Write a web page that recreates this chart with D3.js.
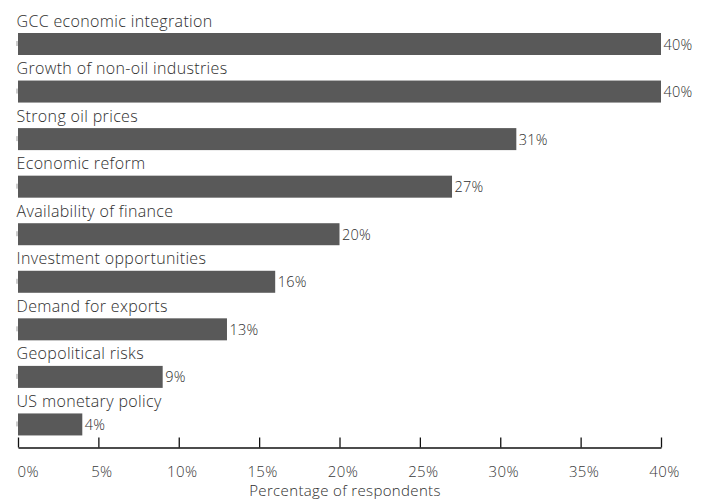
<!DOCTYPE html>
<html>
<head>
<meta charset="utf-8">
<script src="https://cdn.jsdelivr.net/npm/d3@7"></script>
<style>
  body { margin: 0; background: #fff; }
  text { font-family: "Open Sans", Roboto, sans-serif; font-weight: 300; }
  .cat-label { font-size: 16px; letter-spacing: 0.35px; fill: #2e2e2e; }
  .value-label { font-size: 14.5px; letter-spacing: 0.2px; fill: #2e2e2e; }
  .axis text { font-size: 15px; letter-spacing: 0.4px; fill: #3a3a3a; }
  .axis-title { font-size: 15px; letter-spacing: 0.35px; fill: #2e2e2e; }
</style>
</head>
<body>
<div id="chart"></div>
<script>
const CATEGORIES = [
  "GCC economic integration",
  "Growth of non-oil industries",
  "Strong oil prices",
  "Economic reform",
  "Availability of finance",
  "Investment opportunities",
  "Demand for exports",
  "Geopolitical risks",
  "US monetary policy",
];
const VALUES = [40, 40, 31, 27, 20, 16, 13, 9, 4];
const TICKS = [0, 5, 10, 15, 20, 25, 30, 35, 40];

const width = 710;
const height = 499;
const BAR_COLOR = "#595959";

const svg = d3.select("#chart")
  .append("svg")
  .attr("width", width)
  .attr("height", height);

const x = d3.scaleLinear().domain([0, 40]).range([18, 661]);
const y = d3.scaleBand().domain(CATEGORIES).range([10.5, 438.5]).padding(0);

const barH = 22;
const barOffset = 22.5;
const axisY = 447.5;

const rows = svg.selectAll(".row")
  .data(CATEGORIES)
  .join("g")
  .attr("class", "row")
  .attr("transform", (d) => `translate(0,${y(d)})`);

rows.append("text")
  .attr("class", "cat-label")
  .attr("x", 16.5)
  .attr("y", 16)
  .text((d) => d);

// small y-axis tick peeking out at the left of each bar
rows.append("line")
  .attr("x1", x(0) - 1)
  .attr("x2", x(0) - 1)
  .attr("y1", barOffset + 8)
  .attr("y2", barOffset + 13)
  .attr("stroke", "#999")
  .attr("stroke-width", 1);

rows.append("rect")
  .attr("x", x(0))
  .attr("y", barOffset)
  .attr("height", barH)
  .attr("width", (d, i) => x(VALUES[i]) - x(0))
  .attr("fill", BAR_COLOR);

rows.append("text")
  .attr("class", "value-label")
  .attr("x", (d, i) => x(VALUES[i]) + 2.5)
  .attr("y", barOffset + barH / 2 + 5.5)
  .text((d, i) => `${VALUES[i]}%`);

const axis = svg.append("g")
  .attr("class", "axis")
  .attr("transform", `translate(0,${axisY})`)
  .call(d3.axisBottom(x).tickValues(TICKS).tickSize(-10).tickSizeOuter(0).tickFormat((d) => `${d}%`));

axis.select(".domain").attr("stroke", "#111").attr("stroke-width", 1.5);
axis.selectAll(".tick line").attr("stroke", "#111").attr("stroke-width", 1.3);
axis.selectAll(".tick text")
  .attr("y", 19)
  .attr("dx", 3)
  .attr("dy", "0.71em")
  .attr("fill", "#3a3a3a");
axis.selectAll(".tick text").filter((d) => d === 0)
  .attr("text-anchor", "start")
  .attr("dx", -1);

svg.append("text")
  .attr("class", "axis-title")
  .attr("x", 345)
  .attr("y", 496)
  .attr("text-anchor", "middle")
  .text("Percentage of respondents");
</script>
</body>
</html>
